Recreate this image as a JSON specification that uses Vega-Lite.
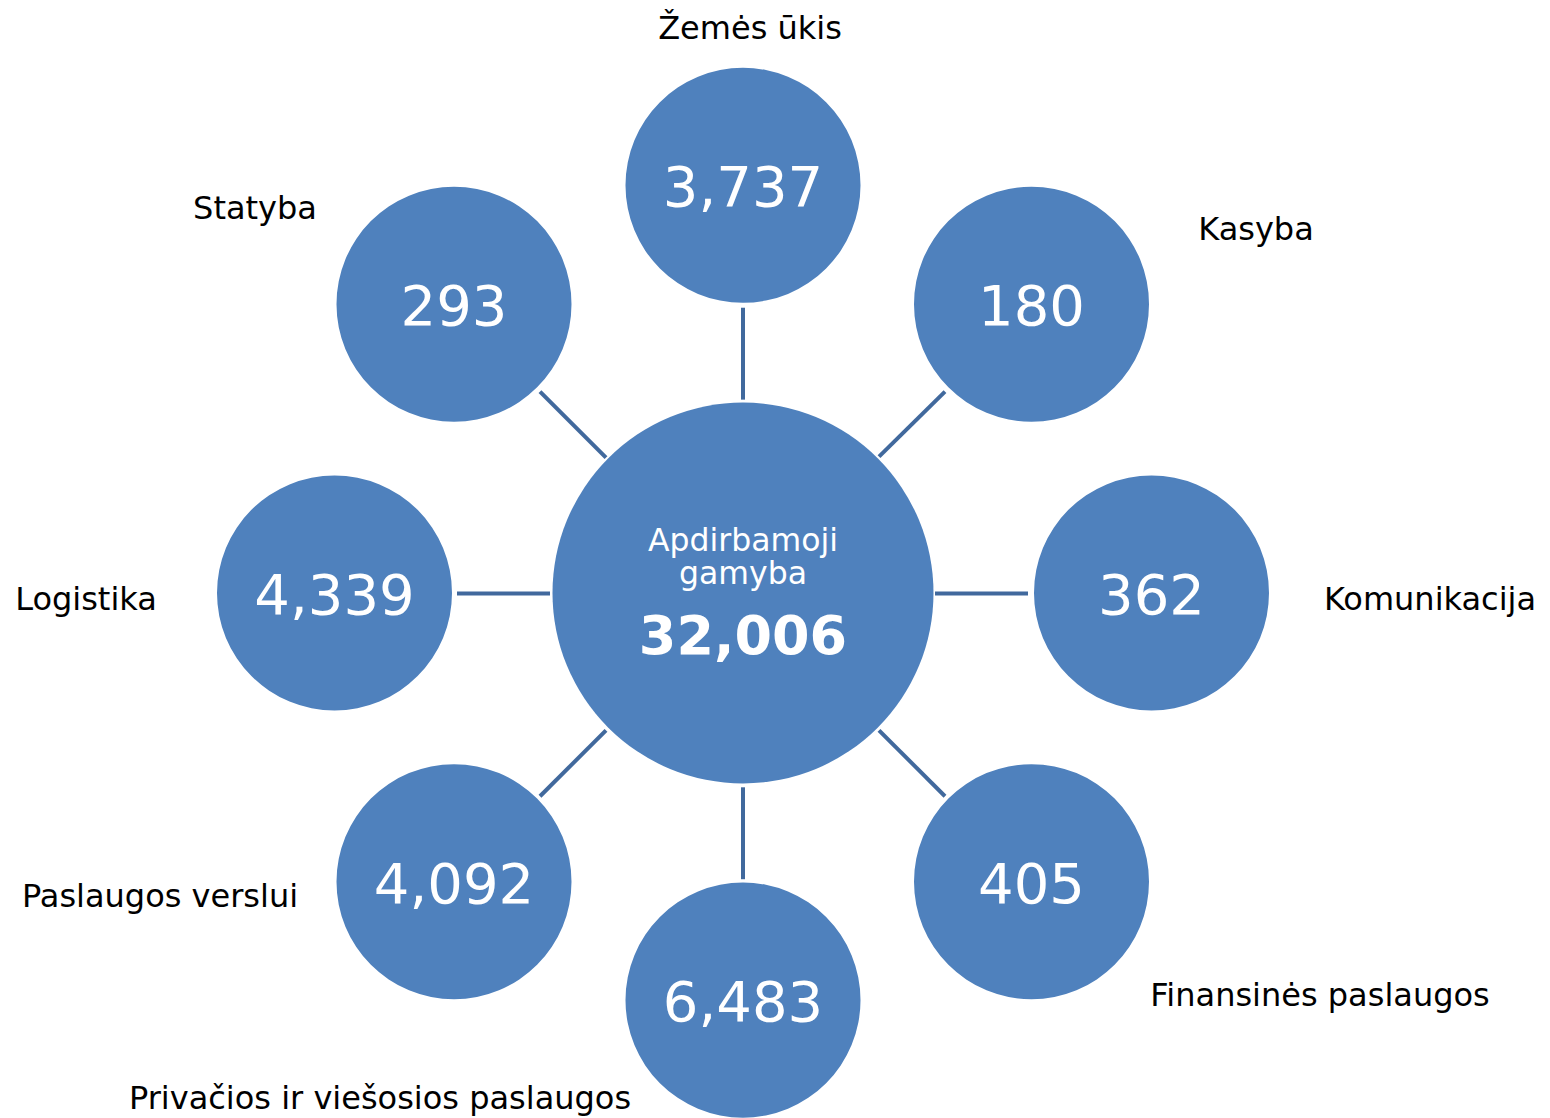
{
  "$schema": "https://vega.github.io/schema/vega-lite/v6.json",
  "width": 1550,
  "height": 1118,
  "padding": 0,
  "autosize": {"type": "fit", "contains": "padding"},
  "background": "white",
  "config": {"view": {"stroke": null}},
  "datasets": {
    "nodes": [
      {"name": "Žemės ūkis", "value": 3737, "cx": 743, "cy": 185.5, "lx": 750, "ly": 39},
      {"name": "Kasyba", "value": 180, "cx": 1031.5, "cy": 304.5, "lx": 1256, "ly": 240},
      {"name": "Komunikacija", "value": 362, "cx": 1151.5, "cy": 593.5, "lx": 1430, "ly": 611},
      {"name": "Finansinės paslaugos", "value": 405, "cx": 1031.5, "cy": 882.5, "lx": 1320, "ly": 1007},
      {"name": "Privačios ir viešosios paslaugos", "value": 6483, "cx": 743, "cy": 1001, "lx": 380, "ly": 1110},
      {"name": "Paslaugos verslui", "value": 4092, "cx": 454, "cy": 882.5, "lx": 160, "ly": 908},
      {"name": "Logistika", "value": 4339, "cx": 334.5, "cy": 593.5, "lx": 86, "ly": 611},
      {"name": "Statyba", "value": 293, "cx": 454, "cy": 304.5, "lx": 255, "ly": 219}
    ],
    "center": [
      {"name": "Apdirbamoji gamyba", "value": 32006, "cx": 743, "cy": 593.5}
    ],
    "centerText": [
      {"t": "Apdirbamoji", "x": 743, "y": 551},
      {"t": "gamyba", "x": 743, "y": 585}
    ],
    "links": [
      {"x": 743, "y": 308, "x2": 743, "y2": 400},
      {"x": 743, "y": 788, "x2": 743, "y2": 880},
      {"x": 457, "y": 594, "x2": 550, "y2": 594},
      {"x": 935, "y": 594, "x2": 1028, "y2": 594},
      {"x": 540, "y": 392, "x2": 606, "y2": 458},
      {"x": 879, "y": 457, "x2": 945, "y2": 392},
      {"x": 606, "y": 731, "x2": 540, "y2": 797},
      {"x": 879, "y": 731, "x2": 945, "y2": 797}
    ]
  },
  "resolve": {"scale": {"x": "shared", "y": "shared"}},
  "layer": [
    {
      "data": {"name": "links"},
      "mark": {"type": "rule", "color": "#41699D", "strokeWidth": 4, "strokeCap": "butt"},
      "encoding": {
        "x": {"field": "x", "type": "quantitative", "scale": {"domain": [0, 1550], "nice": false, "zero": false}, "axis": null},
        "y": {"field": "y", "type": "quantitative", "scale": {"domain": [0, 1118], "nice": false, "zero": false, "reverse": true}, "axis": null},
        "x2": {"field": "x2"},
        "y2": {"field": "y2"}
      }
    },
    {
      "data": {"name": "nodes"},
      "mark": {"type": "point", "shape": "circle", "filled": true, "color": "#4F81BD", "opacity": 1, "size": 55225, "strokeWidth": 0},
      "encoding": {
        "x": {"field": "cx", "type": "quantitative"},
        "y": {"field": "cy", "type": "quantitative"}
      }
    },
    {
      "data": {"name": "center"},
      "mark": {"type": "point", "shape": "circle", "filled": true, "color": "#4F81BD", "opacity": 1, "size": 145161, "strokeWidth": 0},
      "encoding": {
        "x": {"field": "cx", "type": "quantitative"},
        "y": {"field": "cy", "type": "quantitative"}
      }
    },
    {
      "data": {"name": "nodes"},
      "mark": {"type": "text", "font": "DejaVu Sans", "fontSize": 56, "color": "white", "align": "center", "baseline": "alphabetic", "dy": 21},
      "encoding": {
        "x": {"field": "cx", "type": "quantitative"},
        "y": {"field": "cy", "type": "quantitative"},
        "text": {"field": "value", "type": "quantitative", "format": ","}
      }
    },
    {
      "data": {"name": "nodes"},
      "mark": {"type": "text", "font": "DejaVu Sans", "fontSize": 32, "color": "black", "align": "center", "baseline": "alphabetic"},
      "encoding": {
        "x": {"field": "lx", "type": "quantitative"},
        "y": {"field": "ly", "type": "quantitative"},
        "text": {"field": "name", "type": "nominal"}
      }
    },
    {
      "data": {"name": "centerText"},
      "mark": {"type": "text", "font": "DejaVu Sans", "fontSize": 31.5, "color": "white", "align": "center", "baseline": "alphabetic"},
      "encoding": {
        "x": {"field": "x", "type": "quantitative"},
        "y": {"field": "y", "type": "quantitative"},
        "text": {"field": "t", "type": "nominal"}
      }
    },
    {
      "data": {"name": "center"},
      "mark": {"type": "text", "font": "DejaVu Sans", "fontSize": 54, "fontWeight": "bold", "color": "white", "align": "center", "baseline": "alphabetic", "dy": 61},
      "encoding": {
        "x": {"field": "cx", "type": "quantitative"},
        "y": {"field": "cy", "type": "quantitative"},
        "text": {"field": "value", "type": "quantitative", "format": ","}
      }
    }
  ]
}
